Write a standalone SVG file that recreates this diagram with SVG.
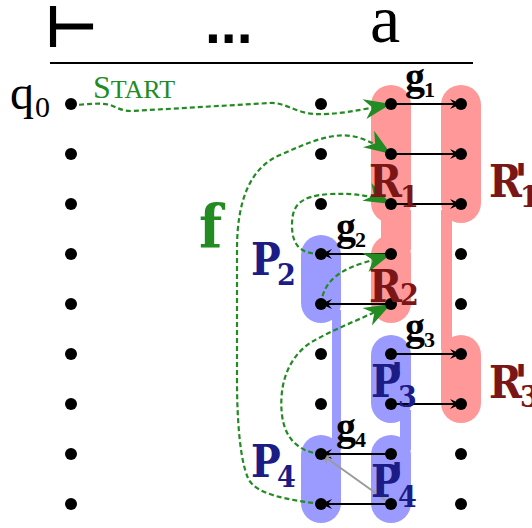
<svg xmlns="http://www.w3.org/2000/svg" width="532" height="528" viewBox="0 0 532 528">
  <style>
    .red { fill: #ff9999; }
    .blue { fill: #9b9bff; }
    .dot { fill: #000; }
    .edge { stroke: #000; stroke-width: 2; fill: none; }
    .grey { stroke: #9a9a9a; stroke-width: 2; fill: none; }
    .flow { stroke: #228b22; stroke-width: 2.2; stroke-dasharray: 5 3; fill: none; }
    .lbl { font-family: "DejaVu Serif", serif; font-weight: bold; font-stretch: condensed; }
    .pr { font-family: "DejaVu Sans", sans-serif; font-weight: bold; font-stretch: normal; }
    .rl { fill: #7b1616; }
    .pl { fill: #1c1c87; }
    .gl { fill: #000; font-family: "Liberation Serif", serif; font-weight: bold; }
  </style>
  <defs>
    <marker id="head" viewBox="-12 -6 13 12" refX="0" refY="0" markerWidth="13" markerHeight="12" orient="auto" markerUnits="userSpaceOnUse">
      <path d="M0,0 L-11,-5 L-7,0 L-11,5 Z" fill="#000"/>
    </marker>
    <marker id="greyhead" viewBox="-12 -6 13 12" refX="0" refY="0" markerWidth="13" markerHeight="12" orient="auto" markerUnits="userSpaceOnUse">
      <path d="M0,0 L-11,-5 L-7,0 L-11,5 Z" fill="#9a9a9a"/>
    </marker>
    <marker id="greenhead" viewBox="-30 -12 32 24" refX="0" refY="0" markerWidth="32" markerHeight="24" orient="auto" markerUnits="userSpaceOnUse">
      <path d="M0,0 L-27,-10 L-19,0 L-27,10 Z" fill="#228b22"/>
    </marker>
  </defs>

  <!-- header: tape symbols -->
  <g id="header">
    <text x="45" y="47" font-family="DejaVu Sans, sans-serif" font-weight="bold" font-size="58">⊢</text>
    <text x="205" y="43" font-family="Liberation Sans, sans-serif" font-weight="bold" font-size="57">...</text>
    <text x="370" y="42" font-family="Liberation Serif, serif" font-size="68">a</text>
    <line x1="50" y1="63" x2="473" y2="63" stroke="#000" stroke-width="2"/>
  </g>

  <!-- state sets -->
  <g id="R">
    <rect class="red" x="371" y="85" width="40" height="138" rx="20"/>
    <rect class="red" x="371" y="235" width="40" height="88" rx="20"/>
    <rect class="red" x="381" y="210" width="30" height="40"/>
  </g>
  <g id="Rprime">
    <rect class="red" x="441" y="85" width="40" height="138" rx="20"/>
    <rect class="red" x="441" y="335" width="40" height="88" rx="20"/>
    <rect class="red" x="441" y="210" width="11" height="140"/>
  </g>
  <g id="P">
    <rect class="blue" x="301" y="235" width="40" height="88" rx="20"/>
    <rect class="blue" x="301" y="435" width="40" height="88" rx="20"/>
    <rect class="blue" x="332" y="310" width="9" height="140"/>
  </g>
  <g id="Pprime">
    <rect class="blue" x="371" y="335" width="40" height="88" rx="20"/>
    <rect class="blue" x="371" y="435" width="40" height="88" rx="20"/>
    <rect class="blue" x="400" y="410" width="11" height="40"/>
  </g>

  <!-- transitions -->
  <g id="connectors">
    <line class="edge" x1="391" y1="104" x2="461" y2="104" marker-end="url(#head)"/>
    <line class="edge" x1="391" y1="154" x2="461" y2="154" marker-end="url(#head)"/>
    <line class="edge" x1="391" y1="204" x2="461" y2="204" marker-end="url(#head)"/>
    <line class="edge" x1="391" y1="254" x2="321" y2="254" marker-end="url(#head)"/>
    <line class="edge" x1="391" y1="304" x2="321" y2="304" marker-end="url(#head)"/>
    <line class="edge" x1="391" y1="354" x2="461" y2="354" marker-end="url(#head)"/>
    <line class="edge" x1="391" y1="404" x2="461" y2="404" marker-end="url(#head)"/>
    <line class="edge" x1="391" y1="454" x2="321" y2="454" marker-end="url(#head)"/>
    <line class="edge" x1="391" y1="504" x2="321" y2="504" marker-end="url(#head)"/>
    <line class="grey" x1="391" y1="504" x2="321" y2="454" marker-end="url(#greyhead)"/>

    <path class="flow" marker-end="url(#greenhead)" d="M71,105 C85,105 100,102 110,105 C118,108 122,111 132,111 L270,103 C285,102 295,113 315,114 C337,115 360,110 391,104"/>
    <path class="flow" marker-end="url(#greenhead)" d="M321,504 C290,500 255,495 248,478 C240,460 237,420 237,380 L237,250 C237,200 250,168 280,155 C310,142 335,130 360,138 C372,142 382,148 391,154"/>
    <path class="flow" marker-end="url(#greenhead)" d="M321,254 C300,254 292,245 292,225 C292,205 300,196 330,194 C355,193 375,196 391,204"/>
    <path class="flow" marker-end="url(#greenhead)" d="M321,304 C323,285 335,272 360,264 C372,260 382,257 391,254"/>
    <path class="flow" marker-end="url(#greenhead)" d="M321,454 C300,452 285,440 282,415 C279,390 285,360 310,343 C335,328 365,318 391,304"/>
  </g>

  <!-- configurations -->
  <g id="dots" class="dot">
    <circle cx="71" cy="104" r="6"/><circle cx="71" cy="154" r="6"/><circle cx="71" cy="204" r="6"/>
    <circle cx="71" cy="254" r="6"/><circle cx="71" cy="304" r="6"/><circle cx="71" cy="354" r="6"/>
    <circle cx="71" cy="404" r="6"/><circle cx="71" cy="454" r="6"/><circle cx="71" cy="504" r="6"/>
    <circle cx="321" cy="104" r="6"/><circle cx="321" cy="154" r="6"/><circle cx="321" cy="204" r="6"/>
    <circle cx="321" cy="254" r="6"/><circle cx="321" cy="304" r="6"/><circle cx="321" cy="354" r="6"/>
    <circle cx="321" cy="404" r="6"/><circle cx="321" cy="454" r="6"/><circle cx="321" cy="504" r="6"/>
    <circle cx="391" cy="104" r="6"/><circle cx="391" cy="154" r="6"/><circle cx="391" cy="204" r="6"/>
    <circle cx="391" cy="254" r="6"/><circle cx="391" cy="304" r="6"/><circle cx="391" cy="354" r="6"/>
    <circle cx="391" cy="404" r="6"/><circle cx="391" cy="454" r="6"/><circle cx="391" cy="504" r="6"/>
    <circle cx="461" cy="104" r="6"/><circle cx="461" cy="154" r="6"/><circle cx="461" cy="204" r="6"/>
    <circle cx="461" cy="254" r="6"/><circle cx="461" cy="304" r="6"/><circle cx="461" cy="354" r="6"/>
    <circle cx="461" cy="404" r="6"/><circle cx="461" cy="454" r="6"/><circle cx="461" cy="504" r="6"/>
  </g>

  <!-- labels -->
  <g id="labels">
    <text font-family="Liberation Serif, serif" font-size="48"><tspan x="10" y="109">q</tspan><tspan x="35" y="117" font-size="30">0</tspan></text>
    <text fill="#228b22" font-family="Liberation Serif, serif"><tspan x="93" y="98" font-size="32">S</tspan><tspan font-size="26">TART</tspan></text>
    <text x="199" y="248" fill="#228b22" class="lbl" font-size="60">f</text>

    <text class="gl" font-size="40"><tspan x="405" y="90">g</tspan><tspan x="424" y="97" font-size="22">1</tspan></text>
    <text class="gl" font-size="40"><tspan x="336" y="240">g</tspan><tspan x="355" y="247" font-size="22">2</tspan></text>
    <text class="gl" font-size="40"><tspan x="405" y="340">g</tspan><tspan x="424" y="347" font-size="22">3</tspan></text>
    <text class="gl" font-size="40"><tspan x="336" y="440">g</tspan><tspan x="355" y="447" font-size="22">4</tspan></text>

    <text class="lbl rl" font-size="44"><tspan x="369" y="197">R</tspan><tspan x="400" y="207" font-size="30">1</tspan></text>
    <text class="lbl rl" font-size="44"><tspan x="489" y="197">R</tspan><tspan x="514" y="197" font-size="46" class="pr">'</tspan><tspan x="520" y="207" font-size="30">1</tspan></text>
    <text class="lbl rl" font-size="44"><tspan x="369" y="302">R</tspan><tspan x="400" y="305" font-size="30">2</tspan></text>
    <text class="lbl rl" font-size="44"><tspan x="489" y="398">R</tspan><tspan x="514" y="398" font-size="46" class="pr">'</tspan><tspan x="520" y="407" font-size="30">3</tspan></text>

    <text class="lbl pl" font-size="44"><tspan x="251" y="275">P</tspan><tspan x="277" y="285" font-size="30">2</tspan></text>
    <text class="lbl pl" font-size="44"><tspan x="371" y="397">P</tspan><tspan x="390" y="396" font-size="46" class="pr">'</tspan><tspan x="398" y="407" font-size="30">3</tspan></text>
    <text class="lbl pl" font-size="44"><tspan x="251" y="477">P</tspan><tspan x="277" y="487" font-size="30">4</tspan></text>
    <text class="lbl pl" font-size="44"><tspan x="371" y="497">P</tspan><tspan x="390" y="496" font-size="46" class="pr">'</tspan><tspan x="398" y="507" font-size="30">4</tspan></text>
  </g>
</svg>
